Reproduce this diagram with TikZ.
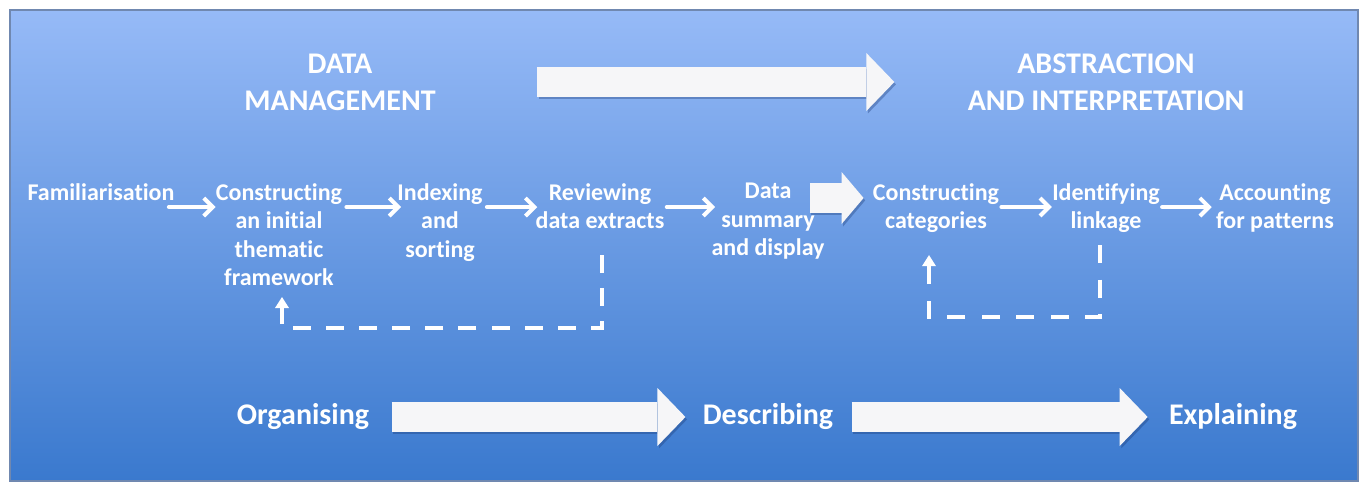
\documentclass[tikz,border=0pt]{standalone}
\usepackage{fontspec}
\setmainfont{Carlito}[Ligatures=NoCommon]
\usetikzlibrary{arrows.meta}

\definecolor{paneltop}{RGB}{150,186,247}
\definecolor{panelbottom}{RGB}{58,121,206}
\definecolor{panelrim}{RGB}{112,136,176}
\definecolor{arrowfill}{RGB}{246,246,248}
\definecolor{shade}{RGB}{25,55,115}

\begin{document}
\begin{tikzpicture}[x=0.5pt,y=-0.5pt,
		stage/.style={font=\bfseries\fontsize{12}{14.2}\selectfont, text=white, align=center, inner sep=0pt, anchor=north},
		phase/.style={font=\bfseries\fontsize{15}{18.5}\selectfont, text=white, align=center, inner sep=0pt},
		level/.style={font=\bfseries\fontsize{15}{18}\selectfont, text=white, inner sep=0pt},
		flow/.style={draw=white, line width=2pt, line cap=round, -{Straight Barb[length=4.5pt,width=9pt]}},
		loopback/.style={draw=white, line width=2.2pt, dash pattern=on 9pt off 7.5pt, -{Triangle[width=7pt,length=5.5pt,line width=0pt]}},
		bigarrow/.style={draw=arrowfill, line width=15pt, -{Triangle[width=29pt,length=14pt,line width=0pt]}},
		midarrow/.style={draw=arrowfill, line width=15pt, -{Triangle[width=26pt,length=11pt,line width=0pt]}},
		shadowed/.style={draw=shade, opacity=.35, transform canvas={shift={(.8pt,-1.2pt)}}}]

					% panel
					\useasboundingbox (0,0) rectangle (1362,488);
					\fill[white] (0,0) rectangle (1362,488);
					\shade[top color=paneltop, bottom color=panelbottom, draw=panelrim, line width=.6pt] (10,10) rectangle (1358,481);

					% headings
					\node[phase] (dm) at (340,82) {DATA\\MANAGEMENT};
					\node[phase] (ai) at (1106,82) {ABSTRACTION\\AND INTERPRETATION};

					% stages
					\node[stage] (fam) at (101,183) {Familiarisation};
					\node[stage] (frame) at (279,183) {Constructing\\an initial\\thematic\\framework};
					\node[stage] (index) at (440,183) {Indexing\\and\\sorting};
					\node[stage] (review) at (600,183) {Reviewing\\data extracts};
					\node[stage] (summary) at (768,183) {Data\\summary\\and display};
					\node[stage] (categ) at (936,183) {Constructing\\categories};
					\node[stage] (link) at (1106,183) {Identifying\\linkage};
					\node[stage] (account) at (1275,183) {Accounting\\for patterns};

					% levels
					\node[level] (org) at (303,417) {Organising};
					\node[level] (desc) at (768,417) {Describing};
					\node[level] (expl) at (1233,417) {Explaining};

					\path[every edge/.style={flow}]
						([xshift=-3pt,yshift=-12pt]fam.north east) edge ([yshift=-12pt]frame.north west)
						([xshift=2pt,yshift=-12pt]frame.north east) edge ([xshift=2pt,yshift=-12pt]index.north west)
						([xshift=2pt,yshift=-12pt]index.north east) edge ([xshift=1pt,yshift=-12pt]review.north west)
						([xshift=1pt,yshift=-12pt]review.north east) edge ([xshift=2pt,yshift=-12pt]summary.north west)
						([xshift=1pt,yshift=-12pt]categ.north east) edge ([yshift=-12pt]link.north west)
						([xshift=1pt,yshift=-12pt]link.north east) edge ([xshift=-2pt,yshift=-12pt]account.north west)
					;

					\draw[loopback, dash pattern=on 9pt off 7.55pt] ([xshift=1pt,yshift=-13pt]review.south) -- ++(0,73) -| ([xshift=1.5pt,yshift=-5.5pt]frame.south);
					\draw[loopback, dash pattern=on 9pt off 8.25pt] ([xshift=-3pt,yshift=-6pt]link.south) -- ++(0,72) -| ([xshift=-3.5pt,yshift=-11pt]categ.south);

					\draw[midarrow, shadowed] ([xshift=-7.5pt,yshift=-7.5pt]summary.north east) -- ([xshift=-4.5pt,yshift=-7.5pt]categ.north west);
					\draw[midarrow] ([xshift=-7.5pt,yshift=-7.5pt]summary.north east) -- ([xshift=-4.5pt,yshift=-7.5pt]categ.north west);

					\draw[bigarrow, shadowed, shorten <=50.5pt, shorten >=36.5pt] (dm.east) -- (ai.west);
					\draw[bigarrow, shorten <=50.5pt, shorten >=36.5pt] (dm.east) -- (ai.west);
					\draw[bigarrow, shadowed, shorten <=11pt, shorten >=8.5pt] (org.east) -- (desc.west);
					\draw[bigarrow, shorten <=11pt, shorten >=8.5pt] (org.east) -- (desc.west);
					\draw[bigarrow, shadowed, shorten <=9pt, shorten >=10.5pt] (desc.east) -- (expl.west);
					\draw[bigarrow, shorten <=9pt, shorten >=10.5pt] (desc.east) -- (expl.west);
\end{tikzpicture}
\end{document}
